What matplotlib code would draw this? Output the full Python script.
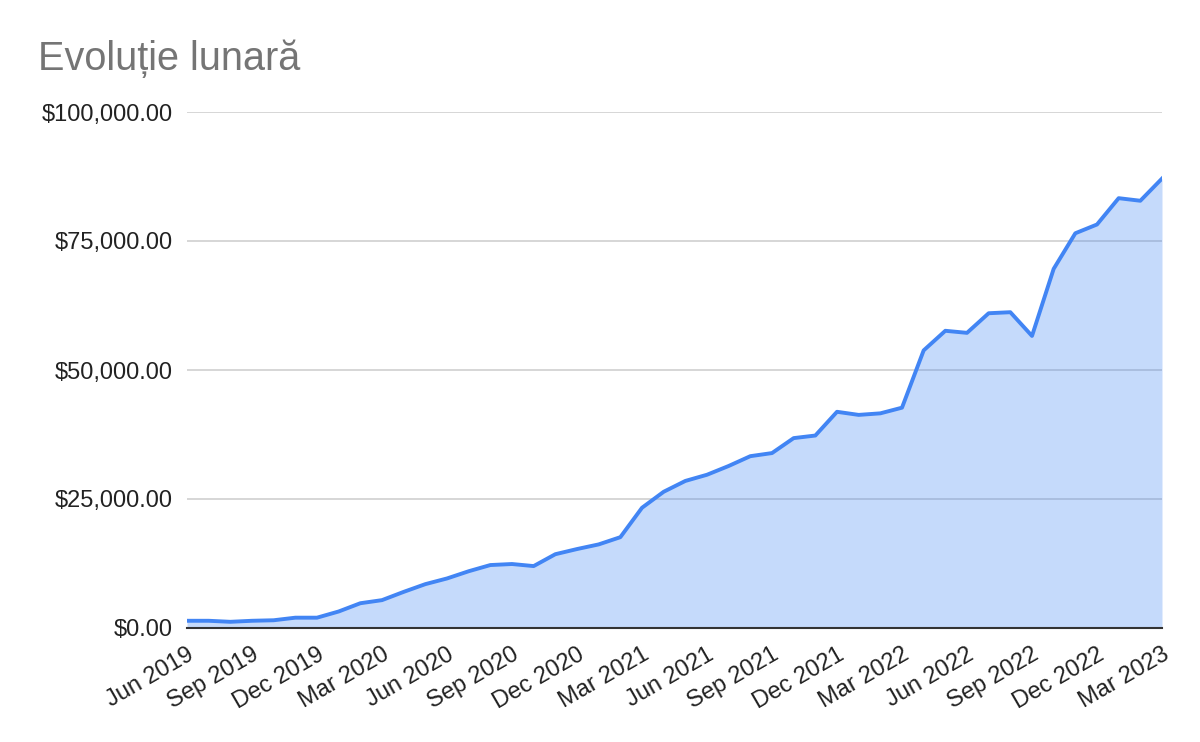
import numpy as np
import matplotlib
matplotlib.use("Agg")
import matplotlib.pyplot as plt
from matplotlib.ticker import FuncFormatter
from matplotlib.transforms import ScaledTranslation

plt.rcParams["font.family"] = ["Liberation Sans", "DejaVu Sans"]

# monthly values, Jun 2019 .. Mar 2023 (thousands of dollars)
months = [
    "Jun 2019", "Jul 2019", "Aug 2019", "Sep 2019", "Oct 2019", "Nov 2019",
    "Dec 2019", "Jan 2020", "Feb 2020", "Mar 2020", "Apr 2020", "May 2020",
    "Jun 2020", "Jul 2020", "Aug 2020", "Sep 2020", "Oct 2020", "Nov 2020",
    "Dec 2020", "Jan 2021", "Feb 2021", "Mar 2021", "Apr 2021", "May 2021",
    "Jun 2021", "Jul 2021", "Aug 2021", "Sep 2021", "Oct 2021", "Nov 2021",
    "Dec 2021", "Jan 2022", "Feb 2022", "Mar 2022", "Apr 2022", "May 2022",
    "Jun 2022", "Jul 2022", "Aug 2022", "Sep 2022", "Oct 2022", "Nov 2022",
    "Dec 2022", "Jan 2023", "Feb 2023", "Mar 2023",
]
values_k = [
    1.4, 1.4, 1.2, 1.4, 1.5, 2.0,
    2.0, 3.2, 4.8, 5.4, 7.0, 8.5,
    9.6, 11.0, 12.2, 12.4, 12.0, 14.3,
    15.3, 16.2, 17.6, 23.3, 26.4, 28.5,
    29.7, 31.4, 33.3, 33.9, 36.8, 37.3,
    41.9, 41.3, 41.6, 42.7, 53.8, 57.6,
    57.2, 61.0, 61.2, 56.6, 69.6, 76.5,
    78.2, 83.3, 82.8, 87.1,
]
y_ticks = [0, 25000, 50000, 75000, 100000]
title = "Evoluție lunară"

values = np.array(values_k) * 1000
x = np.arange(len(months))

fig = plt.figure(figsize=(12, 7.42), dpi=100)
ax = fig.add_axes([187 / 1200, 114 / 742, 975 / 1200, 516 / 742])

line_color = "#4285F4"
ax.fill_between(x, 0, values, color=line_color, alpha=0.3, lw=0, zorder=2)
ax.plot(x, values, color=line_color, lw=2.8, zorder=3, solid_joinstyle="round")

ax.set_xlim(0, len(months) - 1)
ax.set_ylim(0, 100000)
ax.set_yticks(y_ticks)
ax.yaxis.set_major_formatter(FuncFormatter(lambda v, p: f"${v:,.2f}"))
ax.grid(axis="y", color="#cccccc", lw=1.1, zorder=1)
ax.set_axisbelow(True)

tick_idx = x[::3]
ax.set_xticks(tick_idx)
ax.set_xticklabels([months[i] for i in tick_idx], rotation=30, ha="right",
                   rotation_mode="anchor")
offset = ScaledTranslation(9 / 100, 0, fig.dpi_scale_trans)
for lbl in ax.get_xticklabels():
    lbl.set_transform(lbl.get_transform() + offset)

ax.tick_params(axis="both", length=0, labelsize=17, colors="#222222")
ax.tick_params(axis="x", pad=11)
ax.tick_params(axis="y", pad=10)

for side in ["top", "right", "left"]:
    ax.spines[side].set_visible(False)
ax.spines["bottom"].set_color("#333333")
ax.spines["bottom"].set_linewidth(1.5)
ax.spines["bottom"].set_zorder(4)

fig.text(38 / 1200, 1 - 70 / 742, title, fontsize=28.5, color="#757575",
         va="baseline", ha="left")

fig.savefig("out.png", dpi=100)
